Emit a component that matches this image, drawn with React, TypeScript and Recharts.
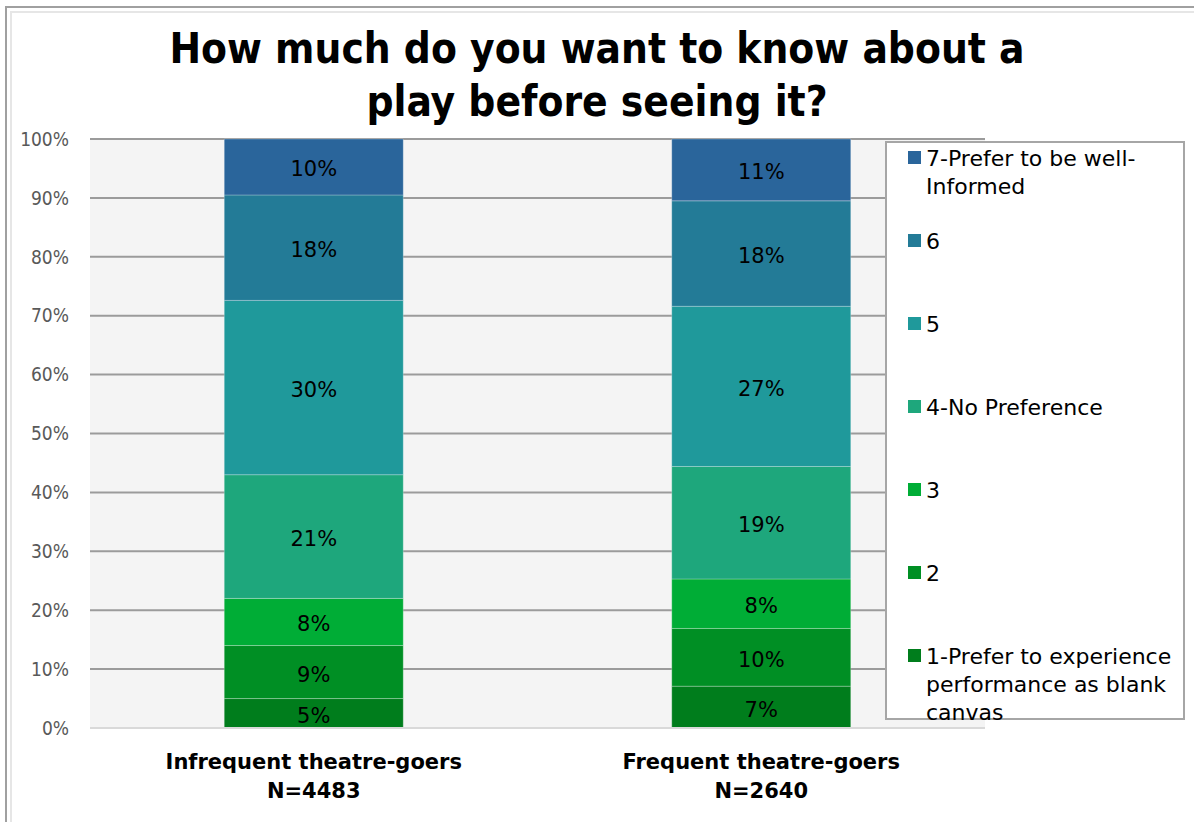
import { BarChart, Bar, XAxis, YAxis, CartesianGrid, LabelList, ReferenceLine } from 'recharts';

// categories + sample sizes (second line of the x labels)
const groups = ['Infrequent theatre-goers', 'Frequent theatre-goers'];
const sampleSizes = ['N=4483', 'N=2640'];

// share of respondents per answer, bottom (1) to top (7)
const pref1 = [5.0, 7.1];
const pref2 = [9.0, 9.8];
const pref3 = [8.0, 8.4];
const pref4 = [21.0, 19.1];
const pref5 = [29.6, 27.2];
const pref6 = [17.9, 17.9];
const pref7 = [9.5, 10.5];

const seriesNames = [
  '1-Prefer to experience performance as blank canvas',
  '2',
  '3',
  '4-No Preference',
  '5',
  '6',
  '7-Prefer to be well-Informed',
];
const seriesValues = [pref1, pref2, pref3, pref4, pref5, pref6, pref7];
const seriesColors = ['#007d1c', '#008f24', '#00ad36', '#1ea77c', '#1f999b', '#237b97', '#2a659b'];

const yTicks = [0, 10, 20, 30, 40, 50, 60, 70, 80, 90, 100];

const NARROW = "'DejaVu Sans Condensed', Roboto, sans-serif";
const WIDE = "'DejaVu Sans', sans-serif";

const chartData = groups.map((g, i) => {
  const row: Record<string, string | number> = { group: g, n: sampleSizes[i] };
  seriesValues.forEach((vals, k) => {
    row[`s${k + 1}`] = vals[i];
  });
  return row;
});

const GroupTick = (props: any) => {
  const { x, y, payload, index } = props;
  return (
    <text x={x} y={y} textAnchor="middle" fontFamily={WIDE} fontWeight="bold" fontSize={21} fill="#000">
      <tspan x={x} dy={35}>{payload.value}</tspan>
      <tspan x={x} dy={29}>{sampleSizes[index]}</tspan>
    </text>
  );
};

function LegendBox() {
  const order = seriesNames.map((_, i) => i).reverse();
  return (
    <div
      style={{
        position: 'absolute',
        left: 885,
        top: 141,
        width: 300,
        height: 579,
        background: '#fff',
        border: '2px solid #a6a6a6',
        boxSizing: 'border-box',
        fontFamily: WIDE,
        fontSize: 22,
        color: '#000',
      }}
    >
      {order.map((k, j) => (
        <div
          key={k}
          style={{ position: 'absolute', left: 21, top: 2 + j * 83, display: 'flex', alignItems: 'flex-start' }}
        >
          <div style={{ width: 13, height: 13, marginTop: 6, background: seriesColors[k], flex: 'none' }} />
          <div style={{ marginLeft: 5, width: 262, lineHeight: '28px' }}>{seriesNames[k]}</div>
        </div>
      ))}
    </div>
  );
}

export default function App() {
  return (
    <div style={{ position: 'absolute', left: 0, top: 0, width: 1194, height: 822, background: '#fff', overflow: 'hidden' }}>
      <div style={{ position: 'absolute', left: 5, top: 6, width: 1200, height: 830, border: '2px solid #a0a0a0' }} />
      <div style={{ position: 'absolute', left: 10, top: 11, width: 1200, height: 830, border: '2px solid #e6e6e6' }} />
      <div
        style={{
          position: 'absolute',
          left: 0,
          top: 22,
          width: 1194,
          textAlign: 'center',
          fontFamily: NARROW,
          fontWeight: 'bold',
          fontSize: 42,
          lineHeight: '53px',
          color: '#000',
        }}
      >
        How much do you want to know about a
        <br />
        play before seeing it?
      </div>
      <div style={{ position: 'absolute', left: 0, top: 0 }}>
        <BarChart
          width={1194}
          height={822}
          data={chartData}
          margin={{ top: 139, right: 209, bottom: 14, left: 0 }}
          barCategoryGap="30%"
        >
          <CartesianGrid vertical={false} stroke="#9b9b9b" strokeWidth={2} fill="#f4f4f4" />
          <YAxis
            domain={[0, 100]}
            ticks={yTicks}
            tickFormatter={(v) => `${v}%`}
            width={90}
            axisLine={false}
            tickLine={false}
            tickMargin={15}
            tick={{ fontSize: 19, fill: '#595959', fontFamily: NARROW }}
            interval={0}
          />
          <XAxis
            dataKey="group"
            height={80}
            axisLine={false}
            tickLine={false}
            tickMargin={0}
            tick={<GroupTick />}
            interval={0}
          />
          <ReferenceLine y={0} stroke="#d9d9d9" strokeWidth={2} />
          {seriesNames.map((name, k) => (
            <Bar
              key={name}
              dataKey={`s${k + 1}`}
              name={name}
              stackId="a"
              fill={seriesColors[k]}
              stroke="rgba(255,255,255,0.25)"
              strokeWidth={1}
              isAnimationActive={false}
            >
              <LabelList
                dataKey={`s${k + 1}`}
                position="center"
                offset={0}
                formatter={(v: any) => `${Math.round(Number(v))}%`}
                style={{ fontSize: 21, fill: '#000', fontFamily: WIDE, transform: 'translateY(2px)' }}
              />
            </Bar>
          ))}
        </BarChart>
      </div>
      <LegendBox />
    </div>
  );
}
